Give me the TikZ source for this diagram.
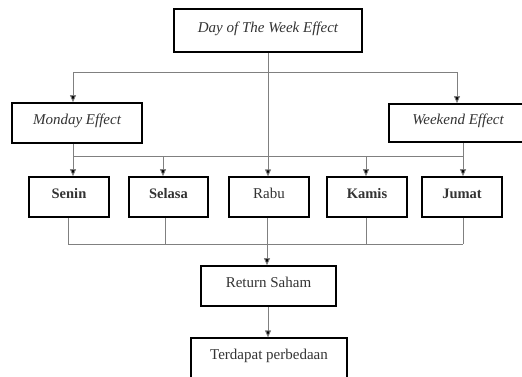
\documentclass[tikz,border=0pt]{standalone}
\usepackage{fontspec}
\setmainfont{Liberation Serif}
\usetikzlibrary{arrows.meta}
\begin{document}
\begin{tikzpicture}[x=1pt,y=-1pt,
  box/.style={draw=black, line width=1.6pt, inner sep=0pt, text=black!80,
    text height=10pt, text depth=7pt, font=\fontsize{15}{18}\selectfont},
  daybox/.style={box, minimum width=80pt, minimum height=40pt, font=\fontsize{14.5}{17}\selectfont\bfseries},
  conn/.style={draw=black!50, line width=0.9pt},
  arr/.style={conn, -{Triangle[length=7pt,width=6pt,fill=black]}}]
\useasboundingbox (0,0) rectangle (522,376);
\clip (0,0) rectangle (522,376);
% boxes
\node[box, minimum width=188pt, minimum height=43pt] (top) at (268,30.5) {\itshape Day of The Week Effect};
\node[box, minimum width=130pt, minimum height=40pt] (monday) at (77,123) {\itshape Monday Effect};
\node[box, minimum width=138pt, minimum height=38pt] (weekend) at (458,123) {\itshape Weekend Effect};
\node[daybox] (senin) at (69,197) {Senin};
\node[daybox, minimum width=79pt] (selasa) at (168.5,197) {Selasa};
\node[daybox, line width=1.2pt, font=\fontsize{15}{18}\selectfont] (rabu) at (269,197) {Rabu};
\node[daybox] (kamis) at (367,197) {Kamis};
\node[daybox] (jumat) at (462,197) {Jumat};
\node[box, minimum width=135pt, minimum height=40pt] (return) at (268.5,286) {Return Saham};
\node[box, line width=1.2pt, minimum width=156pt, minimum height=40pt] (terdapat) at (269,358) {Terdapat perbedaan};
% junction coordinates
\coordinate (jtop) at (268,72);
\coordinate (jtl) at (73,72);
\coordinate (jtr) at (457,72);
\coordinate (jmid) at (73,156);
\coordinate (jmidr) at (463,156);
\coordinate (jbl) at (68,244);
\coordinate (jbr) at (463,244);
\coordinate (jbc) at (267,244);
% top split
\draw[arr] (top.south -| 268,0) -- (rabu.north -| 268,0);
\draw[conn] (jtl) -- (jtr);
\draw[arr] (jtl) -- (monday.north -| jtl);
\draw[arr] (jtr) -- (weekend.north -| jtr);
% middle distribution
\draw[arr] (monday.south -| jmid) -- (senin.north -| jmid);
\draw[conn] (jmid) -- (jmidr);
\draw[arr] (163,156) -- (selasa.north -| 163,0);
\draw[arr] (366,156) -- (kamis.north -| 366,0);
\draw[arr] (weekend.south -| jmidr) -- (jumat.north -| jmidr);
% bottom collection
\draw[conn] (senin.south -| jbl) -- (jbl) -- (jbr);
\draw[conn] (selasa.south -| 165,0) -- (165,244);
\draw[conn] (rabu.south -| jbc) -- (jbc);
\draw[conn] (kamis.south -| 366,0) -- (366,244);
\draw[conn] (jumat.south -| jbr) -- (jbr);
\draw[arr] (jbc) -- (return.north -| jbc);
\draw[arr] (return.south -| 268,0) -- (terdapat.north -| 268,0);
\end{tikzpicture}
\end{document}
